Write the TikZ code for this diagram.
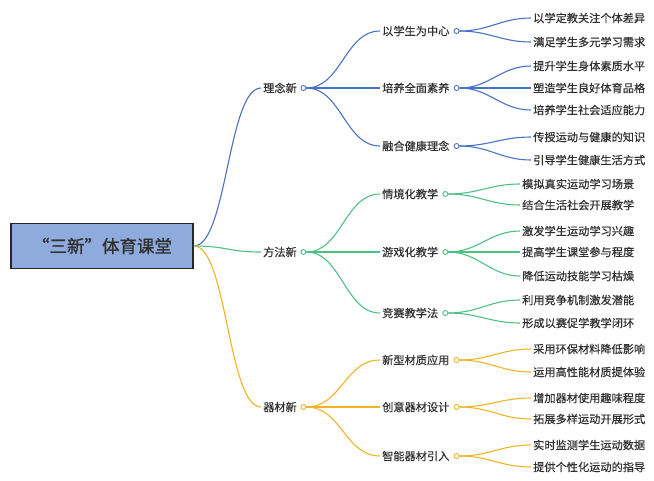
\documentclass[tikz,border=0pt]{standalone}
\usepackage{fontspec}
\newfontfamily\cjk[FakeBold=0.4]{Noto Sans CJK SC}
\newfontfamily\cjkroot[FakeBold=1.2]{Noto Sans CJK SC}
\usetikzlibrary{positioning}
\definecolor{rootfill}{HTML}{8FAADC}
\definecolor{lineblue}{HTML}{4A72C4}
\definecolor{linegreen}{HTML}{4DC084}
\definecolor{lineorange}{HTML}{F2B425}
\definecolor{txtgray}{HTML}{303030}

\begin{document}
\begin{tikzpicture}[
    x=1pt, y=-1pt,
    font=\cjk\fontsize{11.2}{13}\selectfont,
    text=txtgray,
    root/.style={draw=black!85, line width=1.8pt, fill=rootfill, minimum width=182pt, minimum height=45pt, font=\cjkroot\fontsize{17.5}{20}\selectfont},
    topic/.style={anchor=west, inner sep=2pt},
    leaf/.style={anchor=west, inner sep=2pt},
    dot/.style={circle, draw, fill=white, line width=0.9pt, inner sep=0pt, minimum size=5pt},
    link/.style={line width=1.1pt}
]
\useasboundingbox (0,0) rectangle (654,480);

% Root
\node[root] (root) at (102,246) {“三新”体育课堂};

% Level 1
\node[topic] (ideaNew) at (261,88) {理念新};
\node[dot, draw=lineblue, right=1.5pt of ideaNew] (ideaDot) {};
\node[topic] (methodNew) at (261,252) {方法新};
\node[dot, draw=linegreen, right=1.5pt of methodNew] (methodDot) {};
\node[topic] (gearNew) at (261,407) {器材新};
\node[dot, draw=lineorange, right=1.5pt of gearNew] (gearDot) {};

% Level 2 (blue)
\node[topic] (stuCenter) at (380,31) {以学生为中心};
\node[dot, draw=lineblue, right=2pt of stuCenter] (stuCenterDot) {};
\node[topic] (allRound) at (380,88) {培养全面素养};
\node[dot, draw=lineblue, right=2pt of allRound] (allRoundDot) {};
\node[topic] (health) at (380,146) {融合健康理念};
\node[dot, draw=lineblue, right=2pt of health] (healthDot) {};

% Level 2 (green)
\node[topic] (situ) at (380,194) {情境化教学};
\node[dot, draw=linegreen, right=2pt of situ] (situDot) {};
\node[topic] (game) at (380,252) {游戏化教学};
\node[dot, draw=linegreen, right=2pt of game] (gameDot) {};
\node[topic] (contest) at (380,313) {竞赛教学法};
\node[dot, draw=linegreen, right=2pt of contest] (contestDot) {};

% Level 2 (orange)
\node[topic] (material) at (380,360) {新型材质应用};
\node[dot, draw=lineorange, right=2pt of material] (materialDot) {};
\node[topic] (creative) at (380,407) {创意器材设计};
\node[dot, draw=lineorange, right=2pt of creative] (creativeDot) {};
\node[topic] (smart) at (380,456) {智能器材引入};
\node[dot, draw=lineorange, right=2pt of smart] (smartDot) {};

% Leaves (blue)
\node[leaf] (b1) at (531,18) {以学定教关注个体差异};
\node[leaf] (b2) at (531,42) {满足学生多元学习需求};
\node[leaf] (b3) at (531,66) {提升学生身体素质水平};
\node[leaf] (b4) at (531,88) {塑造学生良好体育品格};
\node[leaf] (b5) at (531,110) {培养学生社会适应能力};
\node[leaf] (b6) at (531,137) {传授运动与健康的知识};
\node[leaf] (b7) at (531,160) {引导学生健康生活方式};

% Leaves (green)
\node[leaf] (g1) at (520,184) {模拟真实运动学习场景};
\node[leaf] (g2) at (520,205) {结合生活社会开展教学};
\node[leaf] (g3) at (520,231) {激发学生运动学习兴趣};
\node[leaf] (g4) at (520,252) {提高学生课堂参与程度};
\node[leaf] (g5) at (520,276) {降低运动技能学习枯燥};
\node[leaf] (g6) at (520,300) {利用竞争机制激发潜能};
\node[leaf] (g7) at (520,323) {形成以赛促学教学闭环};

% Leaves (orange)
\node[leaf] (o1) at (531,349) {采用环保材料降低影响};
\node[leaf] (o2) at (531,372) {运用高性能材质提体验};
\node[leaf] (o3) at (531,398) {增加器材使用趣味程度};
\node[leaf] (o4) at (531,419) {拓展多样运动开展形式};
\node[leaf] (o5) at (531,445) {实时监测学生运动数据};
\node[leaf] (o6) at (531,467) {提供个性化运动的指导};

% Root to level 1
\draw[link, lineblue] (root.east) .. controls +(33,0) and +(-33,0) .. (ideaNew.west);
\draw[link, linegreen] (root.east) .. controls +(33,0) and +(-33,0) .. (methodNew.west);
\draw[link, lineorange] (root.east) .. controls +(33,0) and +(-33,0) .. (gearNew.west);

% Level 1 to level 2
\draw[link, lineblue] (ideaDot.east) .. controls +(35,0) and +(-35,0) .. (stuCenter.west);
\draw[link, lineblue] (ideaDot.east) .. controls +(35,0) and +(-35,0) .. (allRound.west);
\draw[link, lineblue] (ideaDot.east) .. controls +(35,0) and +(-35,0) .. (health.west);
\draw[link, linegreen] (methodDot.east) .. controls +(35,0) and +(-35,0) .. (situ.west);
\draw[link, linegreen] (methodDot.east) .. controls +(35,0) and +(-35,0) .. (game.west);
\draw[link, linegreen] (methodDot.east) .. controls +(35,0) and +(-35,0) .. (contest.west);
\draw[link, lineorange] (gearDot.east) .. controls +(35,0) and +(-35,0) .. (material.west);
\draw[link, lineorange] (gearDot.east) .. controls +(35,0) and +(-35,0) .. (creative.west);
\draw[link, lineorange] (gearDot.east) .. controls +(35,0) and +(-35,0) .. (smart.west);

% Level 2 to leaves
\draw[link, lineblue] (stuCenterDot.east) .. controls +(30,0) and +(-30,0) .. (b1.west);
\draw[link, lineblue] (stuCenterDot.east) .. controls +(30,0) and +(-30,0) .. (b2.west);
\draw[link, lineblue] (allRoundDot.east) .. controls +(30,0) and +(-30,0) .. (b3.west);
\draw[link, lineblue] (allRoundDot.east) .. controls +(30,0) and +(-30,0) .. (b4.west);
\draw[link, lineblue] (allRoundDot.east) .. controls +(30,0) and +(-30,0) .. (b5.west);
\draw[link, lineblue] (healthDot.east) .. controls +(30,0) and +(-30,0) .. (b6.west);
\draw[link, lineblue] (healthDot.east) .. controls +(30,0) and +(-30,0) .. (b7.west);

\draw[link, linegreen] (situDot.east) .. controls +(30,0) and +(-30,0) .. (g1.west);
\draw[link, linegreen] (situDot.east) .. controls +(30,0) and +(-30,0) .. (g2.west);
\draw[link, linegreen] (gameDot.east) .. controls +(30,0) and +(-30,0) .. (g3.west);
\draw[link, linegreen] (gameDot.east) .. controls +(30,0) and +(-30,0) .. (g4.west);
\draw[link, linegreen] (gameDot.east) .. controls +(30,0) and +(-30,0) .. (g5.west);
\draw[link, linegreen] (contestDot.east) .. controls +(30,0) and +(-30,0) .. (g6.west);
\draw[link, linegreen] (contestDot.east) .. controls +(30,0) and +(-30,0) .. (g7.west);

\draw[link, lineorange] (materialDot.east) .. controls +(30,0) and +(-30,0) .. (o1.west);
\draw[link, lineorange] (materialDot.east) .. controls +(30,0) and +(-30,0) .. (o2.west);
\draw[link, lineorange] (creativeDot.east) .. controls +(30,0) and +(-30,0) .. (o3.west);
\draw[link, lineorange] (creativeDot.east) .. controls +(30,0) and +(-30,0) .. (o4.west);
\draw[link, lineorange] (smartDot.east) .. controls +(30,0) and +(-30,0) .. (o5.west);
\draw[link, lineorange] (smartDot.east) .. controls +(30,0) and +(-30,0) .. (o6.west);

\end{tikzpicture}
\end{document}
